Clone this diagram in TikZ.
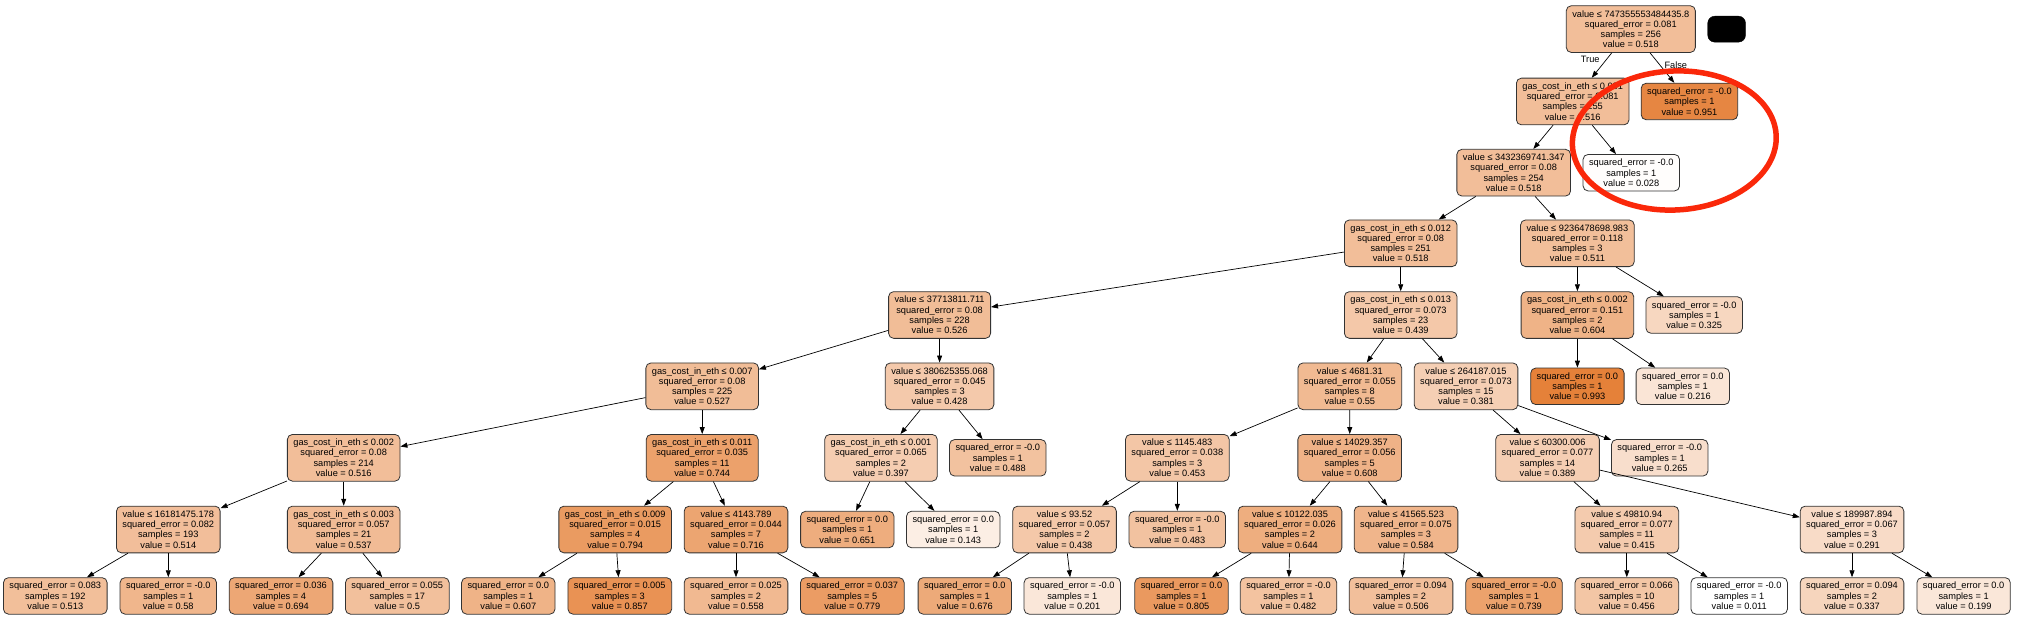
\documentclass[tikz,border=0pt]{standalone}
\usepackage{fontspec}
\setmainfont{Liberation Sans}
\usetikzlibrary{arrows.meta}
\definecolor{gvo}{HTML}{E58139}
\definecolor{markred}{RGB}{250,40,10}
\tikzset{
  tn/.style={draw=black!80, line width=0.8pt, rounded corners=5pt, align=center,
    font=\fontsize{9.24}{10.25}\selectfont, inner xsep=6pt, inner ysep=3pt},
  inode/.style={tn, minimum height=46.7pt},
  leaf/.style={tn, minimum height=36.5pt},
  edge/.style={draw=black, line width=0.7pt, -{Triangle[length=7pt,width=5pt]}},
  lbl/.style={font=\fontsize{9.24}{10.25}\selectfont, inner sep=0pt}
}
\begin{document}
\begin{tikzpicture}[x=1pt,y=-1pt]
\useasboundingbox (0,0) rectangle (2028,628);
% level 0
\node[inode, fill=gvo!51.6!white] (root) at (1630.8,29.1) {value ≤ 747355553484435.8\\squared\_error = 0.081\\samples = 256\\value = 0.518};
\node[fill=black, draw=black, rounded corners=7pt, minimum width=37.8pt, minimum height=25.9pt, inner sep=0pt] (redact) at (1726.6,29.15) {};
% level 1
\node[inode, fill=gvo!51.4!white] (n1) at (1572.7,101.5) {gas\_cost\_in\_eth ≤ 0.081\\squared\_error = 0.081\\samples = 255\\value = 0.516};
\node[leaf, fill=gvo!95.7!white] (l951) at (1689.4,101.5) {squared\_error = -0.0\\samples = 1\\value = 0.951};
% level 2
\node[inode, fill=gvo!51.6!white] (n2) at (1513.7,172.7) {value ≤ 3432369741.347\\squared\_error = 0.08\\samples = 254\\value = 0.518};
\node[leaf, fill=gvo!1.7!white] (l028) at (1631.3,172.7) {squared\_error = -0.0\\samples = 1\\value = 0.028};
% level 3
\node[inode, fill=gvo!51.6!white] (n3) at (1400.7,243.3) {gas\_cost\_in\_eth ≤ 0.012\\squared\_error = 0.08\\samples = 251\\value = 0.518};
\node[inode, fill=gvo!50.9!white] (n3b) at (1577.4,243.3) {value ≤ 9236478698.983\\squared\_error = 0.118\\samples = 3\\value = 0.511};
% level 4
\node[inode, fill=gvo!52.4!white] (n4) at (939.6,315) {value ≤ 37713811.711\\squared\_error = 0.08\\samples = 228\\value = 0.526};
\node[inode, fill=gvo!43.6!white] (n4b) at (1400.7,315) {gas\_cost\_in\_eth ≤ 0.013\\squared\_error = 0.073\\samples = 23\\value = 0.439};
\node[inode, fill=gvo!60.4!white] (n4c) at (1577.4,315) {gas\_cost\_in\_eth ≤ 0.002\\squared\_error = 0.151\\samples = 2\\value = 0.604};
\node[leaf, fill=gvo!32.0!white] (l325) at (1694.2,315) {squared\_error = -0.0\\samples = 1\\value = 0.325};
% level 5
\node[inode, fill=gvo!52.5!white] (n5a) at (702.2,386.3) {gas\_cost\_in\_eth ≤ 0.007\\squared\_error = 0.08\\samples = 225\\value = 0.527};
\node[inode, fill=gvo!42.5!white] (n5b) at (939.6,386.3) {value ≤ 380625355.068\\squared\_error = 0.045\\samples = 3\\value = 0.428};
\node[inode, fill=gvo!54.9!white] (n5c) at (1349.8,386.3) {value ≤ 4681.31\\squared\_error = 0.055\\samples = 8\\value = 0.55};
\node[inode, fill=gvo!37.7!white] (n5d) at (1466,386.3) {value ≤ 264187.015\\squared\_error = 0.073\\samples = 15\\value = 0.381};
\node[leaf, fill=gvo!100!white] (l993) at (1577.4,386.3) {squared\_error = 0.0\\samples = 1\\value = 0.993};
\node[leaf, fill=gvo!20.9!white] (l216) at (1682.8,386.3) {squared\_error = 0.0\\samples = 1\\value = 0.216};
% level 6
\node[inode, fill=gvo!51.4!white] (n6a) at (343.7,457.8) {gas\_cost\_in\_eth ≤ 0.002\\squared\_error = 0.08\\samples = 214\\value = 0.516};
\node[inode, fill=gvo!74.6!white] (n6b) at (702.2,457.8) {gas\_cost\_in\_eth ≤ 0.011\\squared\_error = 0.035\\samples = 11\\value = 0.744};
\node[inode, fill=gvo!39.3!white] (n6c) at (881,457.8) {gas\_cost\_in\_eth ≤ 0.001\\squared\_error = 0.065\\samples = 2\\value = 0.397};
\node[leaf, fill=gvo!48.6!white] (l488) at (997.8,457.8) {squared\_error = -0.0\\samples = 1\\value = 0.488};
\node[inode, fill=gvo!45.0!white] (n6d) at (1177.3,457.8) {value ≤ 1145.483\\squared\_error = 0.038\\samples = 3\\value = 0.453};
\node[inode, fill=gvo!60.8!white] (n6e) at (1349.7,457.8) {value ≤ 14029.357\\squared\_error = 0.056\\samples = 5\\value = 0.608};
\node[inode, fill=gvo!38.5!white] (n6f) at (1547.5,457.8) {value ≤ 60300.006\\squared\_error = 0.077\\samples = 14\\value = 0.389};
\node[leaf, fill=gvo!25.9!white] (l265) at (1659.7,457.8) {squared\_error = -0.0\\samples = 1\\value = 0.265};
% level 7
\node[inode, fill=gvo!51.2!white] (n7a) at (168.3,529.5) {value ≤ 16181475.178\\squared\_error = 0.082\\samples = 193\\value = 0.514};
\node[inode, fill=gvo!53.6!white] (n7b) at (343.7,529.5) {gas\_cost\_in\_eth ≤ 0.003\\squared\_error = 0.057\\samples = 21\\value = 0.537};
\node[inode, fill=gvo!79.7!white] (n7c) at (615.2,529.5) {gas\_cost\_in\_eth ≤ 0.009\\squared\_error = 0.015\\samples = 4\\value = 0.794};
\node[inode, fill=gvo!71.8!white] (n7d) at (736,529.5) {value ≤ 4143.789\\squared\_error = 0.044\\samples = 7\\value = 0.716};
\node[leaf, fill=gvo!65.2!white] (l651) at (847.3,529.5) {squared\_error = 0.0\\samples = 1\\value = 0.651};
\node[leaf, fill=gvo!13.4!white] (l143) at (953.2,529.5) {squared\_error = 0.0\\samples = 1\\value = 0.143};
\node[inode, fill=gvo!43.5!white] (n7e) at (1064.5,529.5) {value ≤ 93.52\\squared\_error = 0.057\\samples = 2\\value = 0.438};
\node[leaf, fill=gvo!48.1!white] (l483) at (1177.3,529.5) {squared\_error = -0.0\\samples = 1\\value = 0.483};
\node[inode, fill=gvo!64.5!white] (n7f) at (1290,529.5) {value ≤ 10122.035\\squared\_error = 0.026\\samples = 2\\value = 0.644};
\node[inode, fill=gvo!58.4!white] (n7g) at (1406,529.5) {value ≤ 41565.523\\squared\_error = 0.075\\samples = 3\\value = 0.584};
\node[inode, fill=gvo!41.1!white] (n7h) at (1626.8,529.5) {value ≤ 49810.94\\squared\_error = 0.077\\samples = 11\\value = 0.415};
\node[inode, fill=gvo!28.5!white] (n7i) at (1852,529.5) {value ≤ 189987.894\\squared\_error = 0.067\\samples = 3\\value = 0.291};
% level 8
\node[leaf, fill=gvo!51.1!white] (l513) at (55.3,595.9) {squared\_error = 0.083\\samples = 192\\value = 0.513};
\node[leaf, fill=gvo!57.9!white] (l58) at (168.3,595.9) {squared\_error = -0.0\\samples = 1\\value = 0.58};
\node[leaf, fill=gvo!69.6!white] (l694) at (281,595.9) {squared\_error = 0.036\\samples = 4\\value = 0.694};
\node[leaf, fill=gvo!49.8!white] (l5) at (397.3,595.9) {squared\_error = 0.055\\samples = 17\\value = 0.5};
\node[leaf, fill=gvo!60.7!white] (l607) at (508.3,595.9) {squared\_error = 0.0\\samples = 1\\value = 0.607};
\node[leaf, fill=gvo!86.2!white] (l857) at (619.8,595.9) {squared\_error = 0.005\\samples = 3\\value = 0.857};
\node[leaf, fill=gvo!55.7!white] (l558) at (736,595.9) {squared\_error = 0.025\\samples = 2\\value = 0.558};
\node[leaf, fill=gvo!78.2!white] (l779) at (852.3,595.9) {squared\_error = 0.037\\samples = 5\\value = 0.779};
\node[leaf, fill=gvo!67.7!white] (l676) at (964.8,595.9) {squared\_error = 0.0\\samples = 1\\value = 0.676};
\node[leaf, fill=gvo!19.3!white] (l201) at (1072.3,595.9) {squared\_error = -0.0\\samples = 1\\value = 0.201};
\node[leaf, fill=gvo!80.9!white] (l805) at (1181.5,595.9) {squared\_error = 0.0\\samples = 1\\value = 0.805};
\node[leaf, fill=gvo!48.0!white] (l482) at (1288.5,595.9) {squared\_error = -0.0\\samples = 1\\value = 0.482};
\node[leaf, fill=gvo!50.4!white] (l506) at (1401,595.9) {squared\_error = 0.094\\samples = 2\\value = 0.506};
\node[leaf, fill=gvo!74.1!white] (l739) at (1514,595.9) {squared\_error = -0.0\\samples = 1\\value = 0.739};
\node[leaf, fill=gvo!45.3!white] (l456) at (1626.8,595.9) {squared\_error = 0.066\\samples = 10\\value = 0.456};
\node[leaf, fill=white] (l011) at (1739.2,595.9) {squared\_error = -0.0\\samples = 1\\value = 0.011};
\node[leaf, fill=gvo!33.2!white] (l337) at (1852,595.9) {squared\_error = 0.094\\samples = 2\\value = 0.337};
\node[leaf, fill=gvo!19.1!white] (l199) at (1963.6,595.9) {squared\_error = 0.0\\samples = 1\\value = 0.199};
% edges
\draw[edge] (root) -- (n1);
\draw[edge] (root) -- (l951);
\draw[edge] (n1) -- (n2);
\draw[edge] (n1) -- (l028);
\draw[edge] (n2) -- (n3);
\draw[edge] (n2) -- (n3b);
\draw[edge] (n3) -- (n4);
\draw[edge] (n3) -- (n4b);
\draw[edge] (n3b) -- (n4c);
\draw[edge] (n3b) -- (l325);
\draw[edge] (n4c) -- (l993);
\draw[edge] (n4c) -- (l216);
\draw[edge] (n4) -- (n5a);
\draw[edge] (n4) -- (n5b);
\draw[edge] (n4b) -- (n5c);
\draw[edge] (n4b) -- (n5d);
\draw[edge] (n5a) -- (n6a);
\draw[edge] (n5a) -- (n6b);
\draw[edge] (n5b) -- (n6c);
\draw[edge] (n5b) -- (l488);
\draw[edge] (n5c) -- (n6d);
\draw[edge] (n5c) -- (n6e);
\draw[edge] (n5d) -- (n6f);
\draw[edge] (n5d) -- (l265);
\draw[edge] (n6a) -- (n7a);
\draw[edge] (n6a) -- (n7b);
\draw[edge] (n6b) -- (n7c);
\draw[edge] (n6b) -- (n7d);
\draw[edge] (n6c) -- (l651);
\draw[edge] (n6c) -- (l143);
\draw[edge] (n6d) -- (n7e);
\draw[edge] (n6d) -- (l483);
\draw[edge] (n6e) -- (n7f);
\draw[edge] (n6e) -- (n7g);
\draw[edge] (n6f) -- (n7h);
\draw[edge] (n6f) -- (n7i);
\draw[edge] (n7a) -- (l513);
\draw[edge] (n7a) -- (l58);
\draw[edge] (n7b) -- (l694);
\draw[edge] (n7b) -- (l5);
\draw[edge] (n7c) -- (l607);
\draw[edge] (n7c) -- (l857);
\draw[edge] (n7d) -- (l558);
\draw[edge] (n7d) -- (l779);
\draw[edge] (n7e) -- (l676);
\draw[edge] (n7e) -- (l201);
\draw[edge] (n7f) -- (l805);
\draw[edge] (n7f) -- (l482);
\draw[edge] (n7g) -- (l506);
\draw[edge] (n7g) -- (l739);
\draw[edge] (n7h) -- (l456);
\draw[edge] (n7h) -- (l011);
\draw[edge] (n7i) -- (l337);
\draw[edge] (n7i) -- (l199);
% edge labels
\node[lbl] (tlabel) at (1590.2,59.6) {True};
\node[lbl] (flabel) at (1675.8,65.3) {False};
% red highlight
\coordinate (mark) at (1674.3,140.5);
\draw[markred, line width=5.5pt, rotate around={3:(mark)}] (mark) ellipse [x radius=102, y radius=69.5];
\end{tikzpicture}
\end{document}
